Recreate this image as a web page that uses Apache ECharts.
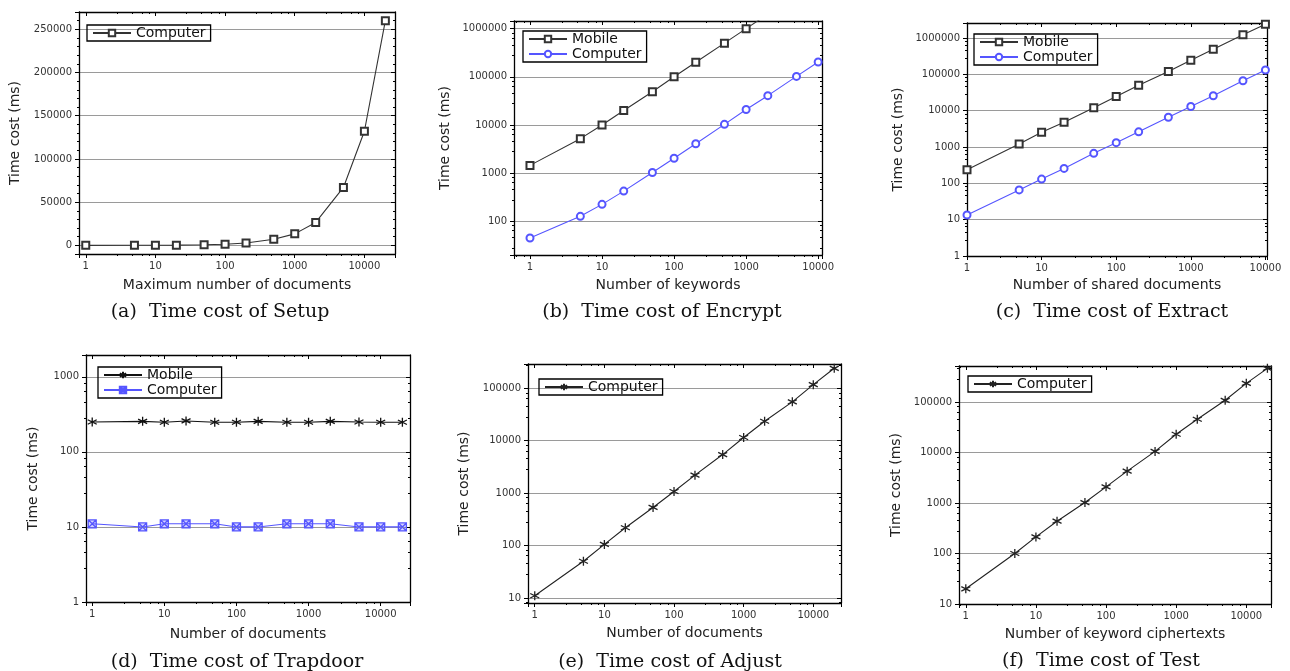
<!DOCTYPE html>
<html>
<head>
<meta charset="utf-8">
<script src="https://cdn.jsdelivr.net/npm/echarts@6/dist/echarts.min.js"></script>
<style>
  html, body { margin: 0; padding: 0; background: #fff; }
  #chart { width: 1290px; height: 671px; }
</style>
</head>
<body>
<div id="chart"></div>
<script>
// x values (number of documents / keywords / ciphertexts)
const X_DOCS = [1, 5, 10, 20, 50, 100, 200, 500, 1000, 2000, 5000, 10000, 20000]
const X_KW = [1, 5, 10, 20, 50, 100, 200, 500, 1000, 2000, 5000, 10000]

// (a) Setup
const setupComputer = [13, 66, 130, 265, 660, 1320, 2650, 7000, 13300, 26500, 67000, 132000, 260000]
// (b) Encrypt (mobile leaves the plot after 1000 keywords)
const encryptMobile = [1450, 5200, 10000, 20000, 49000, 100000, 200000, 500000, 1000000, 2000000]
const encryptComputer = [45, 127, 225, 424, 1030, 2040, 4070, 10300, 20900, 40600, 102000, 203000]
// (c) Extract
const extractMobile = [238, 1220, 2570, 4800, 12000, 24600, 50000, 120000, 244000, 490000, 1240000, 2400000]
const extractComputer = [13.5, 66, 131, 258, 670, 1320, 2620, 6600, 13100, 25800, 67000, 132000]
// (d) Trapdoor
const trapdoorMobile = [250, 255, 248, 258, 248, 248, 255, 248, 248, 255, 250, 248, 248]
const trapdoorComputer = [11, 10, 11, 11, 11, 10, 10, 11, 11, 11, 10, 10, 10]
// (e) Adjust
const adjustComputer = [11, 50, 105, 218, 532, 1070, 2200, 5430, 11500, 23500, 55000, 117000, 240000]
// (f) Test
const testComputer = [20, 100, 213, 436, 1020, 2090, 4270, 10500, 23000, 45600, 108000, 234000, 464000]

const SANS = "'DejaVu Sans', sans-serif"
const SERIF = "'DejaVu Serif', serif"
const DARK = '#333'
const BLUE = '#5555ff'
const STAR = 'path://M5,0 L5,10 M0.67,2.5 L9.33,7.5 M0.67,7.5 L9.33,2.5'
const BOXX = 'path://M0,0 L10,0 L10,10 L0,10 Z M0,0 L10,10 M10,0 L0,10'

function logLabel(v) {
  const l = Math.log10(v)
  return Math.abs(l - Math.round(l)) < 1e-6 ? String(Math.round(v)) : ''
}

function pairs(xs, ys) {
  return ys.map((y, k) => [xs[k], y])
}

const PANELS = [
  {
    grid: { left: 79, top: 12, width: 316, height: 242 },
    x: [0.8, 27500], yType: 'value', y: [-10000, 270000],
    xName: 'Maximum number of documents', yGap: 57, xGap: 24,
    caption: '(a)  Time cost of Setup', cap: [215, 307],
    legend: { left: 87, top: 25 },
    series: [
      { name: 'Computer', xs: X_DOCS, ys: setupComputer, color: DARK, symbol: 'emptyRect', size: 7 },
    ],
  },
  {
    grid: { left: 514, top: 21, width: 308, height: 234 },
    x: [0.6, 11300], yType: 'log', y: [20, 1440000],
    xName: 'Number of keywords', yGap: 62, xGap: 23,
    caption: '(b)  Time cost of Encrypt', cap: [657, 307],
    legend: { left: 523, top: 31 },
    series: [
      { name: 'Mobile', xs: X_KW, ys: encryptMobile, color: DARK, symbol: 'emptyRect', size: 7 },
      { name: 'Computer', xs: X_KW, ys: encryptComputer, color: BLUE, symbol: 'emptyCircle', size: 7 },
    ],
  },
  {
    grid: { left: 967, top: 23, width: 300, height: 233 },
    x: [1, 10500], yType: 'log', y: [1, 2600000],
    xName: 'Number of shared documents', yGap: 62, xGap: 22,
    caption: '(c)  Time cost of Extract', cap: [1107, 307],
    legend: { left: 974, top: 34 },
    series: [
      { name: 'Mobile', xs: X_KW, ys: extractMobile, color: DARK, symbol: 'emptyRect', size: 7 },
      { name: 'Computer', xs: X_KW, ys: extractComputer, color: BLUE, symbol: 'emptyCircle', size: 7 },
    ],
  },
  {
    grid: { left: 86, top: 355, width: 324, height: 247 },
    x: [0.82, 25500], yType: 'log', y: [1, 1950],
    xName: 'Number of documents', yGap: 46, xGap: 25,
    caption: '(d)  Time cost of Trapdoor', cap: [232, 657],
    legend: { left: 98, top: 367 },
    series: [
      { name: 'Mobile', xs: X_DOCS, ys: trapdoorMobile, color: '#111', symbol: STAR, size: 9 },
      { name: 'Computer', xs: X_DOCS, ys: trapdoorComputer, color: BLUE, symbol: BOXX, size: 8 },
    ],
  },
  {
    grid: { left: 528, top: 364, width: 313, height: 239 },
    x: [0.8, 25000], yType: 'log', y: [8, 290000],
    xName: 'Number of documents', yGap: 57, xGap: 23,
    caption: '(e)  Time cost of Adjust', cap: [665, 657],
    legend: { left: 539, top: 379 },
    series: [
      { name: 'Computer', xs: X_DOCS, ys: adjustComputer, color: '#222', symbol: STAR, size: 9 },
    ],
  },
  {
    grid: { left: 959, top: 366, width: 312, height: 238 },
    x: [0.8, 22500], yType: 'log', y: [10, 516000],
    xName: 'Number of keyword ciphertexts', yGap: 56, xGap: 23,
    caption: '(f)  Time cost of Test', cap: [1096, 656],
    legend: { left: 968, top: 376 },
    series: [
      { name: 'Computer', xs: X_DOCS, ys: testComputer, color: '#222', symbol: STAR, size: 9 },
    ],
  },
]

const grid = [], xAxis = [], yAxis = [], series = [], legend = [], title = []
const axisLine = { show: true, onZero: false, lineStyle: { color: '#000', width: 1.3 } }

PANELS.forEach((p, i) => {
  grid.push(p.grid)
  const xBase = { type: 'log', logBase: 10, min: p.x[0], max: p.x[1], gridIndex: i, axisLine }
  xAxis.push({
    ...xBase, position: 'bottom',
    name: p.xName, nameLocation: 'middle', nameGap: p.xGap,
    nameTextStyle: { fontFamily: SANS, fontSize: 14, color: '#222' },
    axisTick: { show: true, inside: false, length: 4, lineStyle: { color: '#000' } },
    minorTick: { show: true, splitNumber: 5, length: 2, lineStyle: { color: '#000' } },
    axisLabel: { formatter: logLabel, fontFamily: SANS, fontSize: 10, color: '#333', margin: 7 },
    splitLine: { show: false },
  })
  xAxis.push({
    ...xBase, position: 'top',
    axisTick: { show: true, inside: true, length: 4, lineStyle: { color: '#000' } },
    minorTick: { show: true, splitNumber: 5, length: 2, lineStyle: { color: '#000' } },
    axisLabel: { show: false },
    splitLine: { show: false },
  })
  const yBase = p.yType === 'log'
    ? { type: 'log', logBase: 10, min: p.y[0], max: p.y[1] }
    : { type: 'value', min: p.y[0], max: p.y[1], splitNumber: 5 }
  const yFmt = p.yType === 'log' ? logLabel : (v => (v % 50000 === 0 ? String(v) : ''))
  yAxis.push({
    ...yBase, gridIndex: i, position: 'left', axisLine,
    name: 'Time cost (ms)', nameLocation: 'middle', nameGap: p.yGap, nameRotate: 90,
    nameTextStyle: { fontFamily: SANS, fontSize: 14, color: '#222' },
    axisTick: { show: true, inside: false, length: 4, lineStyle: { color: '#000' } },
    minorTick: { show: true, splitNumber: 5, length: 2, lineStyle: { color: '#000' } },
    axisLabel: { formatter: yFmt, fontFamily: SANS, fontSize: 10, color: '#333', margin: 7 },
    splitLine: { show: true, lineStyle: { color: '#9a9a9a', width: 1 } },
  })
  yAxis.push({
    ...yBase, gridIndex: i, position: 'right', axisLine,
    axisTick: { show: true, inside: true, length: 4, lineStyle: { color: '#000' } },
    minorTick: { show: true, splitNumber: 5, length: 2, lineStyle: { color: '#000' } },
    axisLabel: { show: false },
    splitLine: { show: false },
  })

  const names = []
  p.series.forEach(s => {
    const id = 'abcdef'[i] + '|' + s.name
    names.push(id)
    const isPath = s.symbol.startsWith('path://')
    series.push({
      type: 'line',
      name: id,
      xAxisIndex: 2 * i,
      yAxisIndex: 2 * i,
      data: pairs(s.xs, s.ys),
      symbol: s.symbol,
      symbolSize: s.size,
      clip: true,
      lineStyle: { color: s.color, width: 1.1 },
      itemStyle: isPath
        ? { color: s.color === BLUE ? 'rgba(85,85,255,0.25)' : s.color, borderColor: s.color, borderWidth: 1.3 }
        : { color: s.color, borderColor: s.color, borderWidth: 1.3 },
    })
  })

  legend.push({
    data: names,
    left: p.legend.left,
    top: p.legend.top,
    orient: 'vertical',
    itemWidth: 38,
    itemHeight: 8,
    itemGap: 1,
    padding: [1, 5, 1, 5],
    borderColor: '#000',
    borderWidth: 1.3,
    selectedMode: false,
    formatter: n => n.split('|')[1],
    textStyle: { fontFamily: SANS, fontSize: 14, color: '#111', padding: [0, 0, 0, 0] },
  })

  title.push({
    text: p.caption,
    left: p.cap[0],
    top: p.cap[1],
    textAlign: 'center',
    textVerticalAlign: 'middle',
    textStyle: { fontFamily: SERIF, fontSize: 19, fontWeight: 'normal', color: '#111' },
  })
})

const chart = echarts.init(document.getElementById('chart'), null, { renderer: 'canvas' })
chart.setOption({
  animation: false,
  backgroundColor: '#fff',
  title, grid, xAxis, yAxis, legend, series,
})
</script>
</body>
</html>
